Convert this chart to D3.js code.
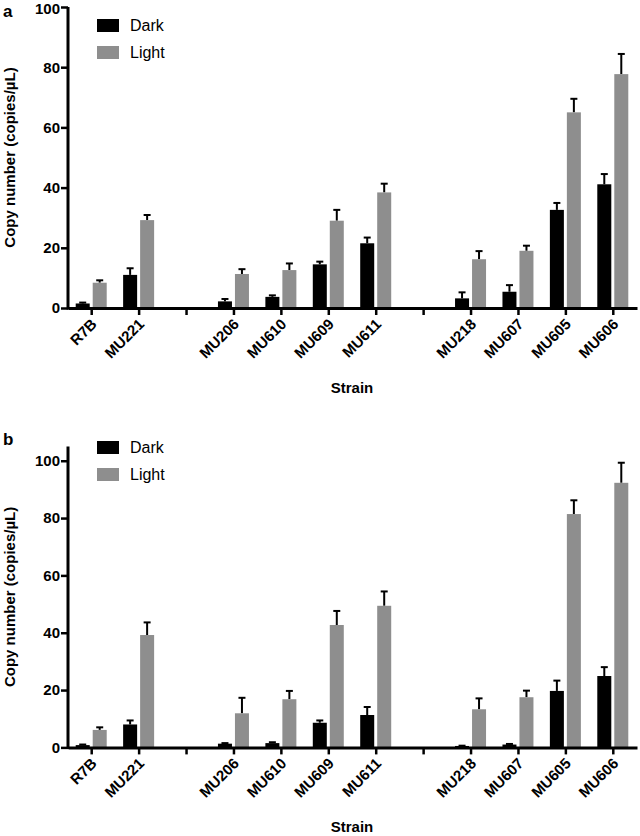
<!DOCTYPE html>
<html>
<head>
<meta charset="utf-8">
<script src="https://cdn.jsdelivr.net/npm/d3@7"></script>
<style>
  html, body { margin: 0; padding: 0; background: #fff; }
  svg { display: block; }
  text { font-family: "Liberation Sans", Arial, Helvetica, sans-serif; }
</style>
</head>
<body>
<svg id="chart" width="640" height="836"></svg>
<script>
// ---- data ----
const slots = ["R7B", "MU221", "gap1", "MU206", "MU610", "MU609", "MU611", "gap2", "MU218", "MU607", "MU605", "MU606"];
const strains = ["R7B", "MU221", "MU206", "MU610", "MU609", "MU611", "MU218", "MU607", "MU605", "MU606"];
const seriesNames = ["Dark", "Light"];
const yTicks = [0, 20, 40, 60, 80, 100];

// Panel a
const darkA = [1.5, 11.0, 2.2, 3.7, 14.5, 21.5, 3.2, 5.4, 32.6, 41.1];
const darkErrA = [0.3, 2.2, 0.8, 0.5, 0.9, 1.9, 2.0, 2.2, 2.3, 3.4];
const lightA = [8.4, 29.2, 11.3, 12.6, 29.0, 38.4, 16.2, 19.0, 65.0, 77.7];
const lightErrA = [0.8, 1.7, 1.6, 2.2, 3.6, 2.9, 2.7, 1.7, 4.5, 6.7];

// Panel b
const darkB = [0.8, 8.0, 1.3, 1.5, 8.6, 11.3, 0.5, 1.0, 19.7, 24.9];
const darkErrB = [0.2, 1.4, 0.2, 0.3, 0.8, 2.8, 0.1, 0.2, 3.6, 3.1];
const lightB = [6.1, 39.2, 11.9, 16.8, 42.7, 49.4, 13.3, 17.5, 81.4, 92.3];
const lightErrB = [0.9, 4.4, 5.4, 2.9, 4.9, 5.0, 3.8, 2.3, 4.8, 7.0];

const colors = { Dark: "#000000", Light: "#8e8e8e" };

const svg = d3.select("#chart");

function panel(cfg) {
  const g = svg.append("g");
  const x = d3.scaleBand().domain(slots).range([68, 637]);
  const y = d3.scaleLinear().domain([0, cfg.yMax]).range([cfg.y0, cfg.y0 - 301]);
  const inner = d3.scaleBand().domain(seriesNames).range([-16, 15]).paddingInner(0.176);

  const rows = strains.map((s, i) => ({
    strain: s,
    vals: [
      { name: "Dark", v: cfg.dark[i], e: cfg.darkErr[i] },
      { name: "Light", v: cfg.light[i], e: cfg.lightErr[i] }
    ]
  }));

  const grp = g.selectAll("g.strain").data(rows).join("g")
    .attr("transform", d => `translate(${x(d.strain) + x.bandwidth() / 2},0)`);

  // error bars (upper only)
  grp.selectAll("g.err").data(d => d.vals).join("g").each(function (d) {
    const cx = inner(d.name) + inner.bandwidth() / 2;
    const s = d3.select(this);
    s.append("line").attr("x1", cx).attr("x2", cx)
      .attr("y1", y(d.v)).attr("y2", y(d.v + d.e))
      .attr("stroke", "#000").attr("stroke-width", 2);
    s.append("line").attr("x1", cx - 3.5).attr("x2", cx + 3.5)
      .attr("y1", y(d.v + d.e)).attr("y2", y(d.v + d.e))
      .attr("stroke", "#000").attr("stroke-width", 2);
  });

  grp.selectAll("rect").data(d => d.vals).join("rect")
    .attr("x", d => inner(d.name))
    .attr("width", inner.bandwidth())
    .attr("y", d => y(d.v))
    .attr("height", d => y(0) - y(d.v))
    .attr("fill", d => colors[d.name]);

  // y axis
  const yAx = g.append("g").attr("transform", "translate(68,0)")
    .call(d3.axisLeft(y).tickValues(yTicks).tickSize(7).tickPadding(1).tickSizeOuter(0));
  yAx.select(".domain").attr("stroke-width", 3).attr("d", `M0,${cfg.y0 + 1.5}V${y(cfg.yMax)}`);
  yAx.selectAll(".tick line").attr("stroke-width", 2.5);
  yAx.selectAll(".tick text").attr("font-size", 15).attr("font-weight", "bold")
    .attr("font-family", "Liberation Sans, Arial, sans-serif").attr("fill", "#000")
    .attr("dy", d => (y(d) < 12 ? "0.45em" : "0.32em"));

  // x axis
  const xAx = g.append("g").attr("transform", `translate(0,${cfg.y0})`)
    .call(d3.axisBottom(x).tickSize(7).tickSizeOuter(0).tickFormat(""));
  xAx.select(".domain").attr("stroke-width", 3);
  xAx.selectAll(".tick line").attr("stroke-width", 2.5);
  xAx.selectAll(".tick text").remove();
  xAx.selectAll(".tick").filter(d => !d.startsWith("gap"))
    .append("text")
    .attr("font-size", 15).attr("font-weight", "bold")
    .attr("font-family", "Liberation Sans, Arial, sans-serif").attr("fill", "#000")
    .attr("text-anchor", "end")
    .attr("transform", "translate(6,17) rotate(-45)")
    .text(d => d);

  // axis titles
  g.append("text").attr("transform", `translate(15,${(cfg.y0 + y(cfg.yMax)) / 2}) rotate(-90)`)
    .attr("text-anchor", "middle").attr("font-size", 15).attr("font-weight", "bold")
    .text("Copy number (copies/µL)");
  g.append("text").attr("x", 352).attr("y", cfg.y0 + 85)
    .attr("text-anchor", "middle").attr("font-size", 15).attr("font-weight", "bold")
    .text("Strain");

  // panel letter
  g.append("text").attr("x", 3).attr("y", cfg.letterY)
    .attr("font-size", 17).attr("font-weight", "bold").text(cfg.letter);

  // legend
  const lg = g.append("g");
  seriesNames.forEach((n, i) => {
    lg.append("rect").attr("x", 97).attr("y", cfg.legY + i * 27).attr("width", 22).attr("height", 13)
      .attr("fill", colors[n]);
    lg.append("text").attr("x", 130).attr("y", cfg.legY + i * 27 + 12)
      .attr("font-size", 16).text(n);
  });
}

panel({ letter: "a", letterY: 17, y0: 308, yMax: 100, legY: 19,
  dark: darkA, darkErr: darkErrA, light: lightA, lightErr: lightErrA });
panel({ letter: "b", letterY: 445, y0: 747.4, yMax: 105, legY: 441,
  dark: darkB, darkErr: darkErrB, light: lightB, lightErr: lightErrB });
</script>
</body>
</html>
